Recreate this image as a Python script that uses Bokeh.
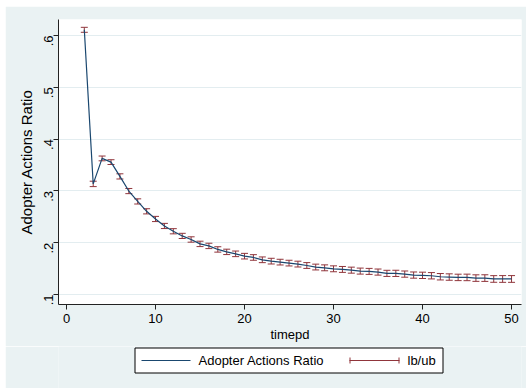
import math
from bokeh.plotting import figure
from bokeh.layouts import column
from bokeh.core.properties import value
from bokeh.models import (Range1d, FixedTicker, CustomJSTickFormatter, ColumnDataSource)
from bokeh.embed import file_html
from bokeh.resources import INLINE

# ---- data ----
timepd = list(range(2, 51))
ratio = [0.611, 0.3135, 0.3627, 0.3556, 0.328, 0.2997, 0.2797, 0.2606, 0.2458, 0.2323,
         0.2221, 0.2131, 0.2062, 0.1977, 0.1938, 0.1870, 0.1823, 0.1785, 0.1740, 0.1715,
         0.1670, 0.1644, 0.1625, 0.1606, 0.1587, 0.1560, 0.1530, 0.1515, 0.1496, 0.1484,
         0.1470, 0.1452, 0.1446, 0.1433, 0.1408, 0.1408, 0.1394, 0.1375, 0.1370, 0.1362,
         0.1343, 0.1337, 0.1330, 0.1330, 0.1317, 0.1317, 0.1300, 0.1300, 0.1300]
ci_half = [0.0048, 0.0052, 0.0046, 0.0046, 0.0050, 0.0050, 0.0050, 0.0050, 0.0050, 0.0050,
           0.0050, 0.0050, 0.0052, 0.0052, 0.0052, 0.0052, 0.0052, 0.0054, 0.0054, 0.0054,
           0.0055, 0.0055, 0.0055, 0.0055, 0.0056, 0.0056, 0.0056, 0.0057, 0.0057, 0.0057,
           0.0058, 0.0058, 0.0058, 0.0059, 0.0059, 0.0060, 0.0060, 0.0060, 0.0061, 0.0061,
           0.0062, 0.0062, 0.0062, 0.0063, 0.0063, 0.0064, 0.0064, 0.0065, 0.0065]
lb = [v - h for v, h in zip(ratio, ci_half)]
ub = [v + h for v, h in zip(ratio, ci_half)]

x_ticks = [0, 10, 20, 30, 40, 50]
y_ticks = [0.1, 0.2, 0.3, 0.4, 0.5, 0.6]
legend_labels = ["Adopter Actions Ratio", "lb/ub"]

FONT = "Liberation Sans"
BG = "#EAF2F3"
NAVY = "#1A476F"
MAROON = "#90353B"

src = ColumnDataSource(dict(t=timepd, r=ratio, lb=lb, ub=ub))

p = figure(width=521, height=340, output_backend="svg", toolbar_location=None,
           x_range=Range1d(-0.9, 51.12), y_range=Range1d(0.0807, 0.6309),
           min_border_left=53, min_border_top=13, min_border_right=5, min_border_bottom=42)
p.background_fill_color = "white"
p.border_fill_color = BG
p.outline_line_color = None

# error bars
p.segment(x0="t", y0="lb", x1="t", y1="ub", source=src, line_color=MAROON, line_width=1)
p.scatter(x="t", y="lb", source=src, marker="dash", size=7, line_color=MAROON, line_width=1)
p.scatter(x="t", y="ub", source=src, marker="dash", size=7, line_color=MAROON, line_width=1)
# main line
p.line(x="t", y="r", source=src, line_color=NAVY, line_width=1.2)

# axes
for ax in (p.xaxis[0], p.yaxis[0]):
    ax.axis_line_color = "#222222"
    ax.major_tick_line_color = "#222222"
    ax.major_tick_out = 5
    ax.major_tick_in = 0
    ax.minor_tick_line_color = None
    ax.major_label_text_font = FONT
    ax.major_label_text_font_size = "13px"
    ax.major_label_text_color = "black"
    ax.axis_label_text_font = FONT
    ax.axis_label_text_font_style = "normal"
    ax.axis_label_text_color = "black"

p.xaxis.ticker = FixedTicker(ticks=x_ticks)
p.xaxis.axis_label = "timepd"
p.xaxis.axis_label_text_font_size = "13px"
p.xaxis.axis_label_standoff = 1
p.xaxis.major_label_standoff = 4

p.yaxis.ticker = FixedTicker(ticks=y_ticks)
p.yaxis.formatter = CustomJSTickFormatter(code="return tick.toFixed(1).replace(/^0/, '');")
p.yaxis.major_label_orientation = math.pi / 2
p.yaxis.axis_label = "Adopter Actions Ratio"
p.yaxis.axis_label_text_font_size = "15px"
p.yaxis.major_label_standoff = 5
p.yaxis.axis_label_standoff = 2

p.xgrid.grid_line_color = None
p.ygrid.grid_line_color = "#E3EDF0"
p.ygrid.ticker = FixedTicker(ticks=y_ticks)

# ---- legend strip below the plot; frame aligned with the main plot's frame,
#      x coordinates are the figure's own pixel columns ----
q = figure(width=521, height=42, output_backend="svg", toolbar_location=None,
           x_axis_location=None, y_axis_location=None,
           x_range=Range1d(53, 516), y_range=Range1d(0, 42),
           min_border_left=53, min_border_right=5,
           min_border_top=0, min_border_bottom=0)
q.grid.visible = False
q.outline_line_color = None
q.background_fill_color = BG
q.border_fill_color = BG

# box
q.quad(left=[129.5], right=[437.5], bottom=[15.5], top=[40.5],
       fill_color="white", line_color="black", line_width=1)
# line key
q.segment(x0=[136], y0=[28], x1=[185], y1=[28], line_color=NAVY, line_width=1.2)
# error-bar key (horizontal with end caps)
q.segment(x0=[344], y0=[28], x1=[394], y1=[28], line_color=MAROON, line_width=1)
q.segment(x0=[344.5, 393.5], y0=[25, 25], x1=[344.5, 393.5], y1=[31, 31],
          line_color=MAROON, line_width=1)
# labels
q.text(x=[193, 402], y=[28, 28], text=legend_labels, text_font=value(FONT),
       text_font_size="13px", text_baseline="middle", text_align="left", text_color="black")

layout = column(p, q, spacing=0)
layout.margin = (6, 0, 0, 5)

open("out.html", "w").write(file_html(layout, INLINE))
